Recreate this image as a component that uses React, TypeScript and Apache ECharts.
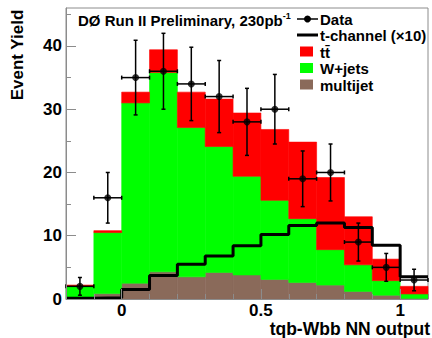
import React, { useEffect, useRef } from "react";
import * as echarts from "echarts";

// Histogram bin edges (tqb-Wbb NN output)
const binEdges = [-0.2, -0.1, 0.0, 0.1, 0.2, 0.3, 0.4, 0.5, 0.6, 0.7, 0.8, 0.9, 1.0, 1.1];
// Stacked backgrounds (bottom to top)
const multijet = [0.1, 0.85, 2.5, 4.3, 3.5, 4.2, 3.8, 3.1, 2.6, 2.2, 1.2, 0.6, 0.1];
const wjets = [2.0, 9.65, 28.5, 31.5, 23.6, 19.9, 15.6, 12.5, 10.1, 5.6, 4.2, 2.3, 0.7];
const ttbar = [0.1, 0.3, 1.7, 3.6, 5.6, 7.5, 10.0, 11.2, 12.1, 11.4, 7.6, 3.4, 1.2];
// t-channel signal (x10), step line
const tchannel = [0.1, 0.2, 1.5, 3.7, 5.5, 6.8, 8.4, 10.2, 11.6, 12.0, 11.3, 8.5, 3.5];
// Data
const dataCounts = [2, 16, 35, 36, 34, 32, 28, 30, 19, 20, 9, 5, 3];
const dataErrors = [1.4, 4.0, 5.9, 6.0, 5.8, 5.7, 5.3, 5.5, 4.4, 4.5, 3.0, 2.2, 1.7];
// Axis ticks
const xTickLabels = [0, 0.5, 1];
const yTickLabels = [0, 10, 20, 30, 40];
const yMinorTicks = [5, 15, 25, 35, 45];

const FONT = "'Liberation Sans', Arial, Helvetica, sans-serif";
const RED = "#ff0000";
const GREEN = "#00ff00";
const BROWN = "#8a6a5a";
const FRAME = "#8c8c8c";

function stackData(lower: number[][], values: number[]) {
  return values.map((v, i) => {
    const base = lower.reduce((s, arr) => s + arr[i], 0);
    return [binEdges[i], binEdges[i + 1], base, base + v];
  });
}

function rectSeries(name: string, data: number[][], color: string) {
  return {
    name,
    type: "custom",
    z: 2,
    encode: { x: [0, 1], y: [2, 3] },
    data,
    renderItem: (_p: any, api: any) => {
      const a = api.coord([api.value(0), api.value(3)]);
      const b = api.coord([api.value(1), api.value(2)]);
      return {
        type: "rect",
        shape: { x: a[0], y: a[1], width: b[0] - a[0], height: b[1] - a[1] },
        style: { fill: color, stroke: color, lineWidth: 0.6 },
      };
    },
  };
}

export default function App() {
  const ref = useRef<HTMLDivElement>(null);
  useEffect(() => {
    document.body.style.margin = "0";
    const chart = echarts.init(ref.current!, null, { renderer: "svg" });

    const centers = dataCounts.map((_, i) => (binEdges[i] + binEdges[i + 1]) / 2);
    const errData = dataCounts.map((c, i) => [centers[i], c, dataErrors[i], binEdges[i], binEdges[i + 1]]);
    const stepData = tchannel.map((v, i) => [binEdges[i], v]);
    stepData.push([binEdges[binEdges.length - 1], tchannel[tchannel.length - 1]]);

    const labelStyle = { color: "#000", fontWeight: "bold", fontFamily: FONT };

    chart.setOption({
      animation: false,
      backgroundColor: "#fff",
      grid: {
        left: 66,
        right: 4,
        top: 8,
        bottom: 39,
        show: true,
        borderColor: FRAME,
        borderWidth: 1,
        backgroundColor: "transparent",
      },
      xAxis: [
        {
          type: "value",
          min: -0.2,
          max: 1.1,
          position: "bottom",
          z: 6,
          axisLine: { show: true, onZero: false, lineStyle: { color: FRAME, width: 1 } },
          axisTick: { show: true, inside: true, length: 10, customValues: xTickLabels, lineStyle: { color: FRAME } },
          axisLabel: { ...labelStyle, fontSize: 17, margin: 3, lineHeight: 17, customValues: xTickLabels, formatter: (v: number) => String(v) },
          splitLine: { show: false },
        },
        {
          type: "value",
          min: -0.2,
          max: 1.1,
          interval: 0.1,
          position: "bottom",
          z: 6,
          axisLine: { show: false, onZero: false },
          axisTick: { show: true, inside: true, length: 5, lineStyle: { color: FRAME } },
          axisLabel: { show: false },
          splitLine: { show: false },
        },
      ],
      yAxis: [
        {
          type: "value",
          min: 0,
          max: 46,
          position: "left",
          z: 6,
          axisLine: { show: true, onZero: false, lineStyle: { color: FRAME, width: 1 } },
          axisTick: { show: true, inside: true, length: 10, customValues: yTickLabels, lineStyle: { color: FRAME } },
          axisLabel: { ...labelStyle, fontSize: 17, margin: 4, customValues: yTickLabels },
          splitLine: { show: false },
        },
        {
          type: "value",
          min: 0,
          max: 46,
          position: "left",
          z: 6,
          axisLine: { show: false, onZero: false },
          axisTick: { show: true, inside: true, length: 5, customValues: yMinorTicks, lineStyle: { color: FRAME } },
          axisLabel: { show: false, customValues: yMinorTicks },
          splitLine: { show: false },
        },
      ],
      series: [
        rectSeries("multijet", stackData([], multijet), BROWN),
        rectSeries("W+jets", stackData([multijet], wjets), GREEN),
        rectSeries("tt̄", stackData([multijet, wjets], ttbar), RED),
        {
          name: "t-channel (×10)",
          type: "line",
          step: "end",
          z: 3,
          symbol: "none",
          data: stepData,
          lineStyle: { color: "#000", width: 3 },
        },
        {
          name: "Data errors",
          type: "custom",
          z: 4,
          encode: { x: 0, y: 1 },
          data: errData,
          renderItem: (_p: any, api: any) => {
            const x = api.value(0);
            const y = api.value(1);
            const e = api.value(2);
            const c = api.coord([x, y]);
            const t = api.coord([x, y + e]);
            const b = api.coord([x, Math.max(0, y - e)]);
            const l = api.coord([api.value(3), y]);
            const r = api.coord([api.value(4), y]);
            const st = { stroke: "#000", lineWidth: 1.5 };
            const cap = 2;
            return {
              type: "group",
              children: [
                { type: "line", shape: { x1: c[0], y1: t[1], x2: c[0], y2: b[1] }, style: st },
                { type: "line", shape: { x1: l[0], y1: c[1], x2: r[0], y2: c[1] }, style: st },
                { type: "line", shape: { x1: c[0] - cap, y1: t[1], x2: c[0] + cap, y2: t[1] }, style: st },
                { type: "line", shape: { x1: c[0] - cap, y1: b[1], x2: c[0] + cap, y2: b[1] }, style: st },
                { type: "line", shape: { x1: l[0], y1: c[1] - cap, x2: l[0], y2: c[1] + cap }, style: st },
                { type: "line", shape: { x1: r[0], y1: c[1] - cap, x2: r[0], y2: c[1] + cap }, style: st },
              ],
            };
          },
        },
        {
          name: "Data",
          type: "scatter",
          z: 5,
          symbol: "circle",
          symbolSize: 7,
          itemStyle: { color: "#000" },
          data: dataCounts.map((c, i) => [centers[i], c]),
        },
      ],
      graphic: [
        {
          type: "text",
          x: 78,
          y: 19.5,
          z: 20,
          style: {
            text: "{a|DØ Run II Preliminary, 230pb}{s|-1}",
            fill: "#000",
            fontFamily: FONT,
            verticalAlign: "middle",
            align: "left",
            rich: {
              a: { fontSize: 15, fontWeight: "bold", fontFamily: FONT, fill: "#000", verticalAlign: "bottom", lineHeight: 17 },
              s: { fontSize: 9, fontWeight: "bold", fontFamily: FONT, fill: "#000", verticalAlign: "top", lineHeight: 17 },
            },
          },
        },
        // Legend
        { type: "line", z: 20, shape: { x1: 297, y1: 19, x2: 318, y2: 19 }, style: { stroke: "#000", lineWidth: 1.5 } },
        { type: "circle", z: 20, shape: { cx: 307.5, cy: 19, r: 3.5 }, style: { fill: "#000" } },
        { type: "text", z: 20, x: 320, y: 19, style: { text: "Data", fontSize: 15, fontWeight: "bold", fontFamily: FONT, fill: "#000", verticalAlign: "middle" } },
        { type: "line", z: 20, shape: { x1: 297, y1: 35, x2: 318, y2: 35 }, style: { stroke: "#000", lineWidth: 3 } },
        { type: "text", z: 20, x: 320, y: 35, style: { text: "t-channel (×10)", fontSize: 15, fontWeight: "bold", fontFamily: FONT, fill: "#000", verticalAlign: "middle" } },
        { type: "rect", z: 20, shape: { x: 300, y: 46.5, width: 13, height: 10 }, style: { fill: RED } },
        { type: "text", z: 20, x: 320, y: 52, style: { text: "tt\u0304", fontSize: 15, fontWeight: "bold", fontFamily: FONT, fill: "#000", verticalAlign: "middle" } },
        { type: "rect", z: 20, shape: { x: 300, y: 63, width: 13, height: 10 }, style: { fill: GREEN } },
        { type: "text", z: 20, x: 320, y: 68.5, style: { text: "W+jets", fontSize: 15, fontWeight: "bold", fontFamily: FONT, fill: "#000", verticalAlign: "middle" } },
        { type: "rect", z: 20, shape: { x: 300, y: 79.5, width: 13, height: 10 }, style: { fill: BROWN } },
        { type: "text", z: 20, x: 320, y: 85, style: { text: "multijet", fontSize: 15, fontWeight: "bold", fontFamily: FONT, fill: "#000", verticalAlign: "middle" } },
        // Axis titles
        { type: "text", z: 20, x: 17, y: 55, rotation: Math.PI / 2, style: { text: "Event Yield", fontSize: 17, fontWeight: "bold", fontFamily: FONT, fill: "#000", align: "center", verticalAlign: "middle" } },
        { type: "text", z: 20, x: 430, y: 328.5, style: { text: "tqb-Wbb NN output", fontSize: 17.5, fontWeight: "bold", fontFamily: FONT, fill: "#000", align: "right", verticalAlign: "middle", lineHeight: 18 } },
      ],
    });
    return () => chart.dispose();
  }, []);
  return <div ref={ref} style={{ position: "fixed", left: 0, top: 0, width: 432, height: 338 }} />;
}
